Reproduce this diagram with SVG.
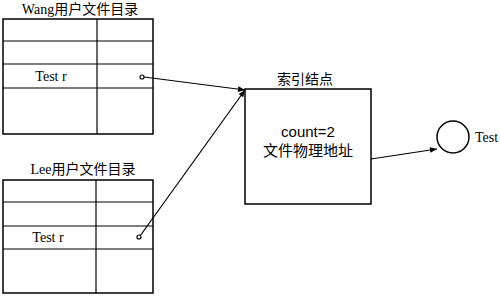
<svg xmlns="http://www.w3.org/2000/svg" width="500" height="296" viewBox="0 0 500 296">
<defs>
<style>
.ln{fill:none;stroke:#000;stroke-width:1.5}
.thin{fill:none;stroke:#000;stroke-width:1.2}
.serif{font-family:"Liberation Serif","Noto Sans CJK SC",serif;font-size:14px;fill:#000}
.sans{font-family:"Liberation Sans","Noto Sans CJK SC",sans-serif;font-size:15px;fill:#000}
.dot{fill:#fff;stroke:#000;stroke-width:1.2}
</style>
<marker id="ah" viewBox="0 0 10 10" refX="10" refY="5" markerWidth="9" markerHeight="7" markerUnits="userSpaceOnUse" orient="auto">
<path d="M0,1 L10,5 L0,9 z" fill="#000"/>
</marker>
</defs>
<rect width="500" height="296" fill="#fff"/>
<g id="wang">
<text class="serif" x="80" y="14" text-anchor="middle" font-size="14.3">Wang用户文件目录</text>
<rect class="ln" x="3" y="19" width="150" height="115"/>
<line class="thin" x1="3" y1="41" x2="153" y2="41"/>
<line class="thin" x1="3" y1="64" x2="153" y2="64"/>
<line class="thin" x1="3" y1="88" x2="153" y2="88"/>
<line class="thin" x1="97" y1="19" x2="97" y2="134"/>
<text class="serif" x="51" y="81" text-anchor="middle" font-size="14.5">Test r</text>
</g>
<g id="lee">
<text class="serif" x="83" y="174" text-anchor="middle" font-size="14.5">Lee用户文件目录</text>
<rect class="ln" x="3" y="180" width="150" height="113"/>
<line class="thin" x1="3" y1="202" x2="153" y2="202"/>
<line class="thin" x1="3" y1="226" x2="153" y2="226"/>
<line class="thin" x1="3" y1="249" x2="153" y2="249"/>
<line class="thin" x1="96" y1="180" x2="96" y2="293"/>
<text class="serif" x="48" y="242" text-anchor="middle" font-size="14.5">Test r</text>
</g>
<g id="inode">
<text class="serif" x="305" y="84" text-anchor="middle" font-size="14.5">索引结点</text>
<rect class="ln" x="245" y="89" width="126" height="115"/>
<text class="sans" x="308" y="137" text-anchor="middle">count=2</text>
<text class="sans" x="308" y="156" text-anchor="middle">文件物理地址</text>
</g>
<g id="file">
<circle class="ln" cx="453" cy="137" r="16"/>
<text class="serif" x="475" y="142">Test</text>
</g>
<g id="connectors">
<line class="thin" x1="144" y1="77" x2="245" y2="90" marker-end="url(#ah)"/>
<line class="thin" x1="140" y1="236" x2="245" y2="90" marker-end="url(#ah)"/>
<line class="thin" x1="371" y1="159" x2="437" y2="149" marker-end="url(#ah)"/>
<circle class="dot" cx="142" cy="77" r="2"/>
<circle class="dot" cx="139" cy="237" r="2"/>
</g>
</svg>
